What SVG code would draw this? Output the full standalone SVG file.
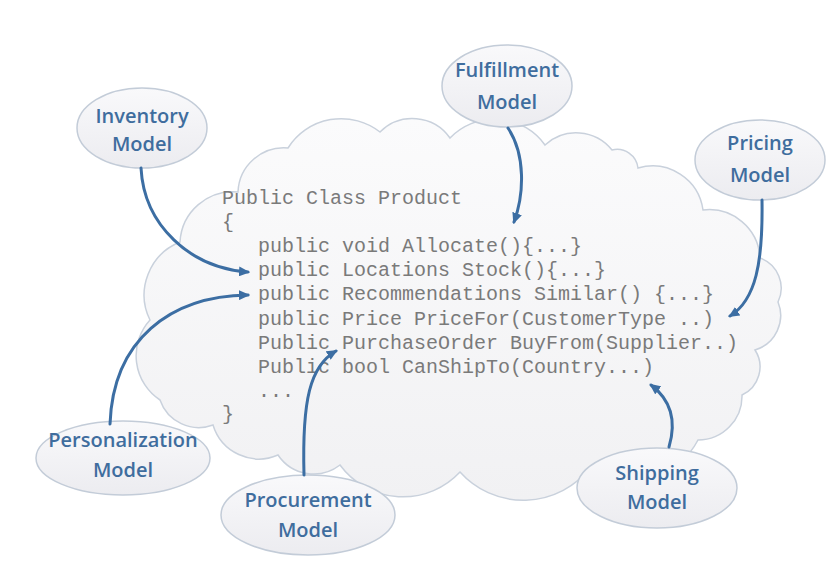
<svg xmlns="http://www.w3.org/2000/svg" width="833" height="581" viewBox="0 0 833 581">
<style>
.code{font-family:"Liberation Mono","Courier New",monospace;font-size:20px;fill:#7a7a7a}
.lbl{font-family:"Open Sans","Noto Sans",sans-serif;font-size:20px;font-weight:600;fill:#3f6d9e;text-anchor:middle}
.ell{fill:url(#eg);stroke:#c3ccd8;stroke-width:1.5}
.con{fill:none;stroke:#3c6ea3;stroke-width:3;stroke-linecap:round;marker-end:url(#ah)}
</style>
<defs>
<linearGradient id="eg" x1="0" y1="0" x2="0" y2="1">
<stop offset="0" stop-color="#f9f9fb"/><stop offset="1" stop-color="#ececf0"/>
</linearGradient>
<linearGradient id="cg" x1="0" y1="0" x2="0" y2="1">
<stop offset="0" stop-color="#fbfbfc"/><stop offset="1" stop-color="#f1f1f3"/>
</linearGradient>
<marker id="ah" markerUnits="userSpaceOnUse" markerWidth="12" markerHeight="10" refX="9" refY="5" orient="auto">
<path d="M0,0 L11,5 L0,10 Z" fill="#3c6ea3"/>
</marker>
</defs>
<rect width="833" height="581" fill="#ffffff"/>
<g id="cloud">
<path d="M160,400 A53,53 0 0 1 150,320 A57,57 0 0 1 180,242 A53,53 0 0 1 238,192 A46,46 0 0 1 288,148 A63,63 0 0 1 380,132 A46,46 0 0 1 450,138 A62,62 0 0 1 545,145 A46,46 0 0 1 612,150 A21,21 0 0 1 638,168 A51,51 0 0 1 703,210 A51,51 0 0 1 760,258 A32,32 0 0 1 778,302 A36,36 0 0 1 755,350 A31,31 0 0 1 742,395 A44,44 0 0 1 698,440 A75,75 0 0 1 590,468 A85,85 0 0 1 460,472 A78,78 0 0 1 340,465 A43,43 0 0 1 278,455 A48,48 0 0 1 213,425 A41,41 0 0 1 160,400 Z" fill="url(#cg)" stroke="#c9d1dc" stroke-width="1.5"/>
<text class="code" x="222" y="204">Public Class Product</text>
<text class="code" x="222" y="228">{</text>
<text class="code" x="222" y="252" xml:space="preserve">   public void Allocate(){...}</text>
<text class="code" x="222" y="276" xml:space="preserve">   public Locations Stock(){...}</text>
<text class="code" x="222" y="300" xml:space="preserve">   public Recommendations Similar() {...}</text>
<text class="code" x="222" y="325" xml:space="preserve">   public Price PriceFor(CustomerType ..)</text>
<text class="code" x="222" y="349" xml:space="preserve">   Public PurchaseOrder BuyFrom(Supplier..)</text>
<text class="code" x="222" y="373" xml:space="preserve">   Public bool CanShipTo(Country...)</text>
<text class="code" x="222" y="397" xml:space="preserve">   ...</text>
<text class="code" x="222" y="420">}</text>
</g>
<g id="inventory">
<ellipse class="ell" cx="142" cy="128" rx="65" ry="40"/>
<text class="lbl" x="142" y="123">Inventory</text>
<text class="lbl" x="142" y="151">Model</text>
</g>
<g id="fulfillment">
<ellipse class="ell" cx="507" cy="86" rx="65" ry="41"/>
<text class="lbl" x="507" y="77">Fulfillment</text>
<text class="lbl" x="507" y="109">Model</text>
</g>
<g id="pricing">
<ellipse class="ell" cx="760" cy="160" rx="65" ry="40"/>
<text class="lbl" x="760" y="150">Pricing</text>
<text class="lbl" x="760" y="182">Model</text>
</g>
<g id="personalization">
<ellipse class="ell" cx="123" cy="458" rx="87" ry="37"/>
<text class="lbl" x="123" y="447">Personalization</text>
<text class="lbl" x="123" y="477">Model</text>
</g>
<g id="procurement">
<ellipse class="ell" cx="308" cy="515" rx="87" ry="40"/>
<text class="lbl" x="308" y="507">Procurement</text>
<text class="lbl" x="308" y="537">Model</text>
</g>
<g id="shipping">
<ellipse class="ell" cx="657" cy="488" rx="80" ry="40"/>
<text class="lbl" x="657" y="480">Shipping</text>
<text class="lbl" x="657" y="509">Model</text>
</g>
<g id="connectors">
<path class="con" d="M141,168 C144,225 190,268 248,272"/>
<path class="con" d="M508,128 C526,155 524,195 514,222"/>
<path class="con" d="M762,200 C763,262 756,300 730,316"/>
<path class="con" d="M110,424 C113,340 170,296 248,295"/>
<path class="con" d="M304,475 C302,400 310,366 336,351"/>
<path class="con" d="M669,447 C677,420 671,400 651,385"/>
</g>
</svg>
